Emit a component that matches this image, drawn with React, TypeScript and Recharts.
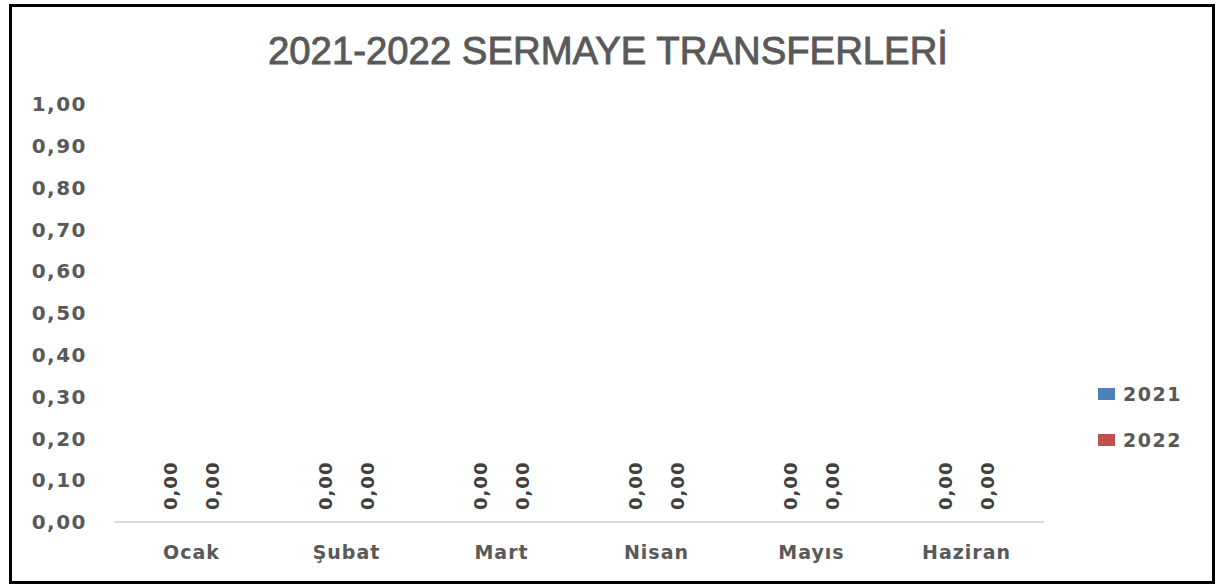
import React from 'react';
import { BarChart, Bar, XAxis, YAxis, LabelList } from 'recharts';

const categories = ['Ocak', 'Şubat', 'Mart', 'Nisan', 'Mayıs', 'Haziran'];
const values2021 = [0, 0, 0, 0, 0, 0];
const values2022 = [0, 0, 0, 0, 0, 0];
const yTicks = [0, 0.1, 0.2, 0.3, 0.4, 0.5, 0.6, 0.7, 0.8, 0.9, 1.0];
const seriesNames = ['2021', '2022'];
const seriesColors = ['#4F81BD', '#C0504D'];
const title = '2021-2022 SERMAYE TRANSFERLERİ';

const data = categories.map((c, i) => ({ name: c, s2021: values2021[i], s2022: values2022[i] }));

const fmt = (v: number) => v.toFixed(2).replace('.', ',');

const RotLabel = (props: any) => {
  const vb = props.viewBox || {};
  const x = props.x ?? vb.x;
  const y = props.y ?? vb.y;
  const width = props.width ?? vb.width ?? 0;
  const value = props.value ?? 0;
  const cx = Number(x) + Number(width) / 2;
  const cy = Number(y) - 12;
  if (!isFinite(cx) || !isFinite(cy)) return null;
  return (
    <text
      x={cx}
      y={cy}
      transform={`rotate(-90, ${cx}, ${cy})`}
      textAnchor="start"
      dy="0.36em"
      fill="#404040"
      fontFamily="DejaVu Sans"
      fontWeight="bold"
      fontSize={18}
      letterSpacing={1}
    >
      {fmt(Number(value))}
    </text>
  );
};

const LegendContent = () => (
  <div style={{ fontFamily: 'DejaVu Sans', fontWeight: 'bold', fontSize: 19, color: '#595959' }}>
    {seriesNames.map((n, i) => (
      <div key={n} style={{ display: 'flex', alignItems: 'center', height: 24, marginBottom: i === 0 ? 22 : 0 }}>
        <span style={{ display: 'inline-block', width: 17, height: 12, background: seriesColors[i], marginRight: 8 }} />
        <span style={{ letterSpacing: 1.5 }}>{n}</span>
      </div>
    ))}
  </div>
);

export default function App() {
  return (
    <div style={{ position: 'absolute', left: 0, top: 0, width: 1219, height: 586, background: '#fff' }}>
      <div
        style={{
          position: 'absolute',
          left: 9,
          top: 4,
          width: 1206,
          height: 580,
          border: '3px solid #000',
          boxSizing: 'border-box',
        }}
      />
      <svg style={{ position: 'absolute', left: 0, top: 0 }} width={1219} height={90}>
        <text
          x={608}
          y={64}
          textAnchor="middle"
          fontFamily="Liberation Sans"
          fontSize={39}
          fill="#595959"
          stroke="#595959"
          strokeWidth={0.9}
          textLength={680}
          lengthAdjust="spacingAndGlyphs"
        >
          {title}
        </text>
      </svg>
      <div style={{ position: 'absolute', left: 1098, top: 382 }}>
        <LegendContent />
      </div>
      <div style={{ position: 'absolute', left: 0, top: 0 }}>
        <BarChart
          width={1219}
          height={586}
          data={data}
          margin={{ top: 104, right: 175, bottom: 0, left: 0 }}
          barSize={38}
          barGap={4}
        >
          <XAxis
            dataKey="name"
            axisLine={{ stroke: '#D9D9D9', strokeWidth: 2 }}
            tickLine={false}
            tickSize={0}
            tickMargin={24}
            tick={{ fill: '#595959', fontFamily: 'DejaVu Sans', fontWeight: 'bold', fontSize: 19, letterSpacing: 1 }}
            height={64}
          />
          <YAxis
            domain={[0, 1]}
            ticks={yTicks}
            width={114}
            axisLine={false}
            tickLine={false}
            tickSize={0}
            tickMargin={27}
            tickFormatter={fmt}
            tick={{ fill: '#595959', fontFamily: 'DejaVu Sans', fontWeight: 'bold', fontSize: 20, letterSpacing: 1.5 }}
            interval={0}
          />
          <Bar dataKey="s2021" fill={seriesColors[0]} isAnimationActive={false} minPointSize={0.01}>
            <LabelList dataKey="s2021" content={RotLabel} />
          </Bar>
          <Bar dataKey="s2022" fill={seriesColors[1]} isAnimationActive={false} minPointSize={0.01}>
            <LabelList dataKey="s2022" content={RotLabel} />
          </Bar>
        </BarChart>
      </div>
    </div>
  );
}
